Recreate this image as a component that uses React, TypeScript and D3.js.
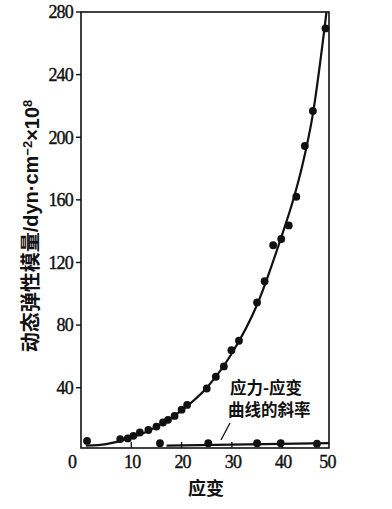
import { useEffect, useRef } from 'react';
import * as d3 from 'd3';

// measured points on the modulus curve
const strainPts = [1.2, 7.8, 9.3, 10.4, 11.7, 13.4, 15, 16.3, 17.3, 18.6, 20, 21.1, 25, 26.8, 28.4, 29.9, 31.4, 35, 36.5, 38.2, 39.8, 41.3, 42.8, 44.5, 46.1, 48.6];
const modulusPts = [6, 7.2, 7.6, 9.3, 11.4, 13, 15.2, 17.8, 19.5, 22, 26, 29, 39.5, 47, 53.6, 64, 70, 94.5, 108, 131, 135, 143.7, 162, 194.4, 216.8, 269.5];

// fitted curve through the modulus points
const fitStrain = [1, 5, 10, 15, 20, 25, 30, 35, 40, 42, 44, 46, 48.8];
const fitModulus = [3, 4, 8, 15, 25.5, 40, 62, 93, 138, 158, 182, 213, 280];

// slope of the stress-strain curve
const slopeStrain = [15.7, 25.3, 35, 39.7, 46.9];
const slopeValues = [4.6, 4.6, 4.6, 4.6, 4.2];
const slopeLineStrain = [17, 49.3];
const slopeLineValues = [3, 4.6];

const xTicks = [0, 10, 20, 30, 40, 50];
const yTicks = [40, 80, 120, 160, 200, 240, 280];

export default function App() {
  const ref = useRef<SVGSVGElement>(null);

  useEffect(() => {
    if (!ref.current) return;
    const svg = d3.select(ref.current);
    svg.selectAll('*').remove();

    const left = 81, right = 329, top = 12, bottom = 448;
    const x = d3.scaleLinear().domain([0, 49.3]).range([left, right]);
    const y = d3.scaleLinear().domain([1.5, 280]).range([bottom, top]);
    const ink = '#111';

    svg.append('rect').attr('width', 392).attr('height', 509).attr('fill', '#fff');

    // frame
    svg.append('rect')
      .attr('x', left).attr('y', top)
      .attr('width', right - left).attr('height', bottom - top)
      .attr('fill', 'none').attr('stroke', ink).attr('stroke-width', 1.6);

    // y ticks (outside)
    const numFont = '"Liberation Serif", "DejaVu Serif", serif';
    svg.append('g').selectAll('line').data(yTicks).join('line')
      .attr('x1', left - 5).attr('x2', left)
      .attr('y1', d => y(d)).attr('y2', d => y(d))
      .attr('stroke', ink).attr('stroke-width', 1.4);
    svg.append('g').selectAll('text').data(yTicks).join('text')
      .attr('x', 73).attr('y', d => y(d))
      .attr('dy', '0.35em')
      .attr('text-anchor', 'end')
      .attr('font-family', numFont).attr('font-size', 18)
      .attr('letter-spacing', -0.8)
      .attr('fill', ink).attr('stroke', ink).attr('stroke-width', 0.4)
      .text(d => d);

    // x ticks (inside, up from bottom)
    svg.append('g').selectAll('line').data(xTicks.filter(d => d > 0 && d < 50)).join('line')
      .attr('x1', d => x(d)).attr('x2', d => x(d))
      .attr('y1', bottom).attr('y2', bottom - 6)
      .attr('stroke', ink).attr('stroke-width', 1.3);
    svg.append('g').selectAll('text').data(xTicks).join('text')
      .attr('x', d => x(d) + (d === 0 ? -9 : d === 50 ? -5 : 1))
      .attr('y', 468)
      .attr('text-anchor', 'middle')
      .attr('font-family', numFont).attr('font-size', 18)
      .attr('letter-spacing', -0.8)
      .attr('fill', ink).attr('stroke', ink).attr('stroke-width', 0.4)
      .text(d => d);

    svg.append('clipPath').attr('id', 'plot-clip')
      .append('rect').attr('x', left).attr('y', top)
      .attr('width', right - left).attr('height', bottom - top);

    // fitted modulus curve
    const line = d3.line<number>()
      .x((_, i) => x(fitStrain[i]))
      .y(d => y(d))
      .curve(d3.curveMonotoneX);
    svg.append('path')
      .attr('d', line(fitModulus))
      .attr('clip-path', 'url(#plot-clip)')
      .attr('fill', 'none').attr('stroke', ink).attr('stroke-width', 2.2);

    // slope line
    const sline = d3.line<number>()
      .x((_, i) => x(slopeLineStrain[i]))
      .y(d => y(d));
    svg.append('path')
      .attr('d', sline(slopeLineValues))
      .attr('fill', 'none').attr('stroke', ink).attr('stroke-width', 2.4);

    // points
    svg.append('g').selectAll('circle').data(modulusPts).join('circle')
      .attr('cx', (_, i) => x(strainPts[i]))
      .attr('cy', d => y(d))
      .attr('r', 3.9)
      .attr('fill', ink);
    svg.append('g').selectAll('circle').data(slopeValues).join('circle')
      .attr('cx', (_, i) => x(slopeStrain[i]))
      .attr('cy', d => y(d))
      .attr('r', 3.9)
      .attr('fill', ink);

    const cjk = '"Noto Sans CJK SC", "Noto Sans", sans-serif';

    // annotation
    const ann = svg.append('text')
      .attr('font-family', cjk).attr('font-size', 16.5).attr('font-weight', 'bold')
      .attr('fill', ink);
    ann.append('tspan').attr('x', 230).attr('y', 394).text('应力-应变');
    ann.append('tspan').attr('x', 228).attr('y', 416).text('曲线的斜率');
    svg.append('line')
      .attr('x1', 230).attr('y1', 423).attr('x2', 221).attr('y2', 440)
      .attr('stroke', ink).attr('stroke-width', 1.3);

    // x axis title
    svg.append('text')
      .attr('x', 206).attr('y', 489).attr('dy', '0.35em')
      .attr('text-anchor', 'middle')
      .attr('font-family', cjk).attr('font-size', 18).attr('font-weight', 'bold')
      .attr('fill', ink)
      .text('应变');

    // y axis title
    const sans = '"Liberation Sans", Arial, sans-serif';
    const yt = svg.append('text')
      .attr('transform', 'translate(31,226) rotate(-90)')
      .attr('text-anchor', 'middle')
      .attr('dy', '0.35em')
      .attr('font-size', 20).attr('font-weight', 'bold')
      .attr('fill', ink);
    yt.append('tspan').attr('font-family', cjk).text('动态弹性模量');
    yt.append('tspan').attr('font-family', sans).text('/dyn·cm');
    yt.append('tspan').attr('font-family', sans)
      .attr('font-size', 13).attr('dy', '-0.5em').text('−2');
    yt.append('tspan').attr('font-family', sans)
      .attr('dy', '0.35em').text('×10');
    yt.append('tspan').attr('font-family', sans)
      .attr('font-size', 13).attr('dy', '-0.5em').text('8');
  }, []);

  return (
    <svg ref={ref} width={392} height={509}
      style={{ position: 'absolute', left: 0, top: 0, display: 'block' }} />
  );
}
